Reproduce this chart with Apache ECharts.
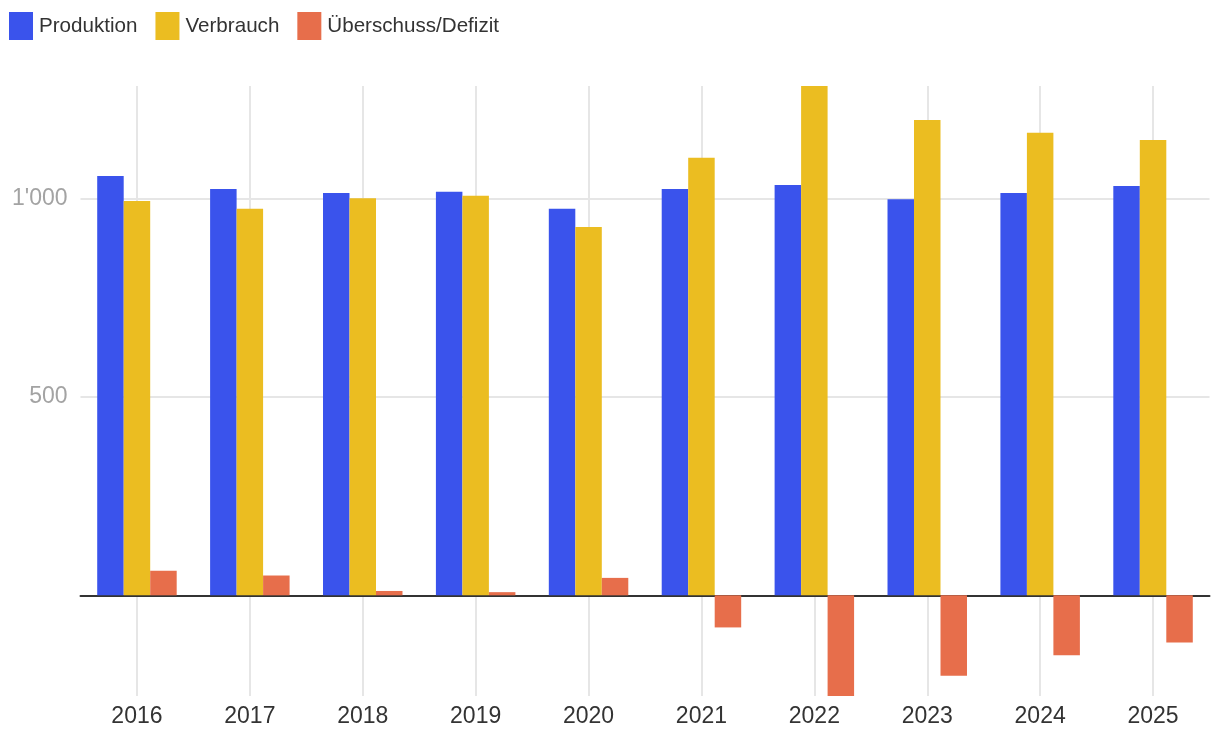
<!DOCTYPE html>
<html>
<head>
<meta charset="utf-8">
<script src="https://cdn.jsdelivr.net/npm/echarts@6/dist/echarts.min.js"></script>
<style>
html,body{margin:0;padding:0;background:#fff;}
#chart{width:1220px;height:746px;}
</style>
</head>
<body>
<div id="chart"></div>
<script>
const years = ['2016','2017','2018','2019','2020','2021','2022','2023','2024','2025'];
const produktion = [1058, 1025, 1015, 1018, 975, 1025, 1035, 999, 1015, 1033];
const verbrauch = [995, 975, 1002, 1008, 929, 1104, 1285, 1199, 1167, 1149];
const saldo = [62, 50, 11, 8, 44, -81, -254, -203, -151, -119];
const seriesNames = ['Produktion', 'Verbrauch', 'Überschuss/Defizit'];
const colors = ['#3A53EC', '#EBBD21', '#E76E4B'];

const chart = echarts.init(document.getElementById('chart'));
const font = '"Liberation Sans", Arial, Helvetica, sans-serif';
chart.setOption({
  animation: false,
  color: colors,
  textStyle: { fontFamily: font },
  legend: {
    left: 9, top: 12, padding: 0,
    itemWidth: 24, itemHeight: 28, itemGap: 18,
    icon: 'rect',
    textStyle: { fontSize: 20.6, color: '#333', fontFamily: font, padding: [0, 0, 0, 1] },
    data: seriesNames
  },
  grid: { left: 80.5, right: 10.5, top: 86, bottom: 50, containLabel: false },
  xAxis: {
    type: 'category',
    data: years,
    axisLine: { onZero: true, lineStyle: { color: '#333', width: 2 } },
    axisTick: { show: false },
    axisLabel: { fontSize: 23, color: '#333', margin: 9, interval: 0, fontFamily: font },
    splitLine: { show: true, alignWithLabel: true, interval: 0, lineStyle: { color: '#e6e6e6', width: 2 } }
  },
  yAxis: {
    type: 'value',
    min: v => v.min,
    max: v => v.max,
    splitNumber: 3,
    axisLine: { show: false },
    axisTick: { show: false },
    axisLabel: {
      fontSize: 23, color: '#a3a3a3', margin: 13, fontFamily: font,
      showMinLabel: false, showMaxLabel: false,
      padding: [3, 0, 0, 0],
      formatter: v => (v <= 0 ? '' : String(v).replace(/\B(?=(\d{3})+(?!\d))/g, "'"))
    },
    splitLine: { show: true, showMinLine: false, showMaxLine: false, lineStyle: { color: '#e6e6e6', width: 2 } }
  },
  series: [
    { name: seriesNames[0], type: 'bar', data: produktion, barGap: '0%', barCategoryGap: '29.6%' },
    { name: seriesNames[1], type: 'bar', data: verbrauch, barGap: '0%', barCategoryGap: '29.6%' },
    { name: seriesNames[2], type: 'bar', data: saldo, barGap: '0%', barCategoryGap: '29.6%' }
  ]
});
</script>
</body>
</html>
